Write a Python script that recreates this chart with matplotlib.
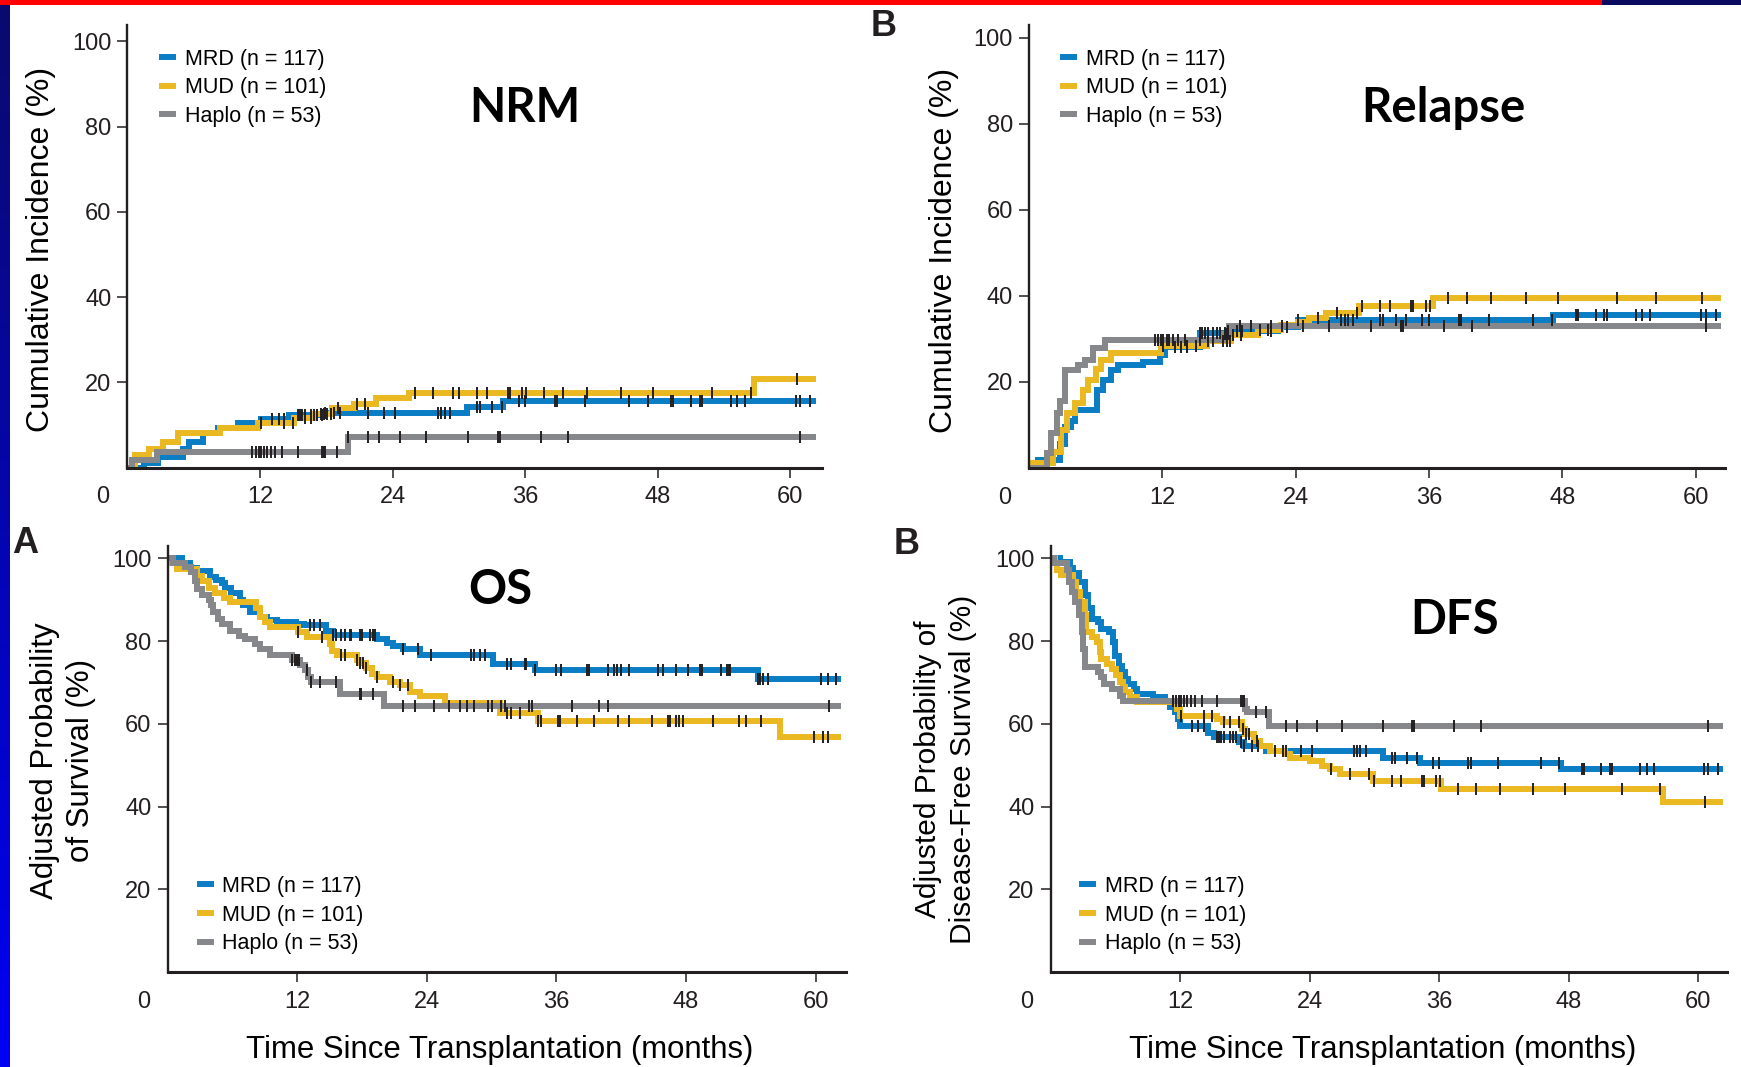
import numpy as np
import matplotlib
matplotlib.use('Agg')
import matplotlib.pyplot as plt
from matplotlib.patches import Rectangle

plt.rcParams['font.family'] = ['Liberation Sans', 'DejaVu Sans']

W, H = 1741, 1067

# groups shared by all four panels
labels = ['MRD (n = 117)', 'MUD (n = 101)', 'Haplo (n = 53)']
colors = ['#0b7dc4', '#eab921', '#86878a']
x_ticks = [12, 24, 36, 48, 60]
y_ticks = [20, 40, 60, 80, 100]

# NRM, cumulative incidence (%) - step times (months) and values
nrm_mrd_t = [0, 1.5, 2.8, 5.0, 5.6, 6.8, 8.2, 10.0, 12.1, 14.6, 17.8, 30.7, 34.0, 62.3]
nrm_mrd_v = [0, 1.2, 2.6, 4.5, 6.1, 8.1, 9.2, 10.4, 11.4, 12.4, 12.9, 14.3, 15.6, 15.6]
nrm_mud_t = [0, 0.7, 2.0, 3.2, 4.6, 8.4, 11.8, 15.1, 17.0, 18.5, 20.5, 22.5, 25.5, 56.7, 62.3]
nrm_mud_v = [0, 3.0, 4.5, 6.1, 8.1, 9.2, 10.4, 11.6, 12.5, 13.9, 15.0, 16.3, 17.6, 20.8, 20.8]
nrm_haplo_t = [0, 0.4, 2.7, 20.0, 62.3]
nrm_haplo_v = [0, 1.8, 3.7, 7.2, 7.2]

# Relapse, cumulative incidence (%)
rel_mrd_t = [0, 0.8, 2.8, 3.2, 3.8, 4.1, 6.1, 6.7, 7.4, 8.0, 10.3, 11.8, 12.2, 15.4, 17.9,
             22.4, 24.2, 47.2, 62.3]
rel_mrd_v = [0, 1.9, 5.6, 9.5, 11.0, 13.6, 18.1, 20.4, 22.8, 24.0, 24.7, 26.3, 28.2, 31.3, 31.8,
             32.7, 34.4, 35.6, 35.6]
rel_mud_t = [0, 0.3, 2.2, 2.9, 3.4, 4.1, 4.9, 5.3, 6.0, 6.5, 7.4, 11.9, 16.0, 18.2, 20.6,
             22.7, 24.2, 25.2, 26.7, 29.7, 36.4, 62.3]
rel_mud_v = [0, 1.2, 3.7, 8.9, 12.7, 15.0, 18.1, 20.4, 23.0, 25.1, 26.7, 28.4, 29.6, 31.0, 32.0,
             33.2, 33.9, 34.8, 36.0, 37.7, 39.6, 39.6]
rel_haplo_t = [0, 1.6, 2.0, 2.5, 2.8, 3.2, 4.4, 5.0, 5.8, 6.8, 17.5, 18.0, 62.3]
rel_haplo_v = [0, 3.4, 8.1, 12.7, 15.5, 22.8, 24.0, 25.1, 27.8, 29.7, 31.2, 33.0, 33.0]

# OS, adjusted probability of survival (%)
os_mrd_t = [0, 1.3, 2.1, 2.7, 3.9, 4.5, 5.0, 5.3, 5.9, 6.7, 7.0, 7.6, 8.6, 9.2, 10.1, 11.9,
            12.6, 14.7, 15.3, 19.4, 20.3, 20.9, 21.8, 23.4, 30.1, 34.0, 54.7, 62.3]
os_mrd_v = [100, 99.0, 97.8, 97.0, 95.5, 94.9, 94.1, 92.8, 91.6, 90.0, 88.7, 87.1, 85.8, 85.0,
            84.6, 84.2, 83.8, 82.5, 81.5, 80.4, 79.6, 78.8, 78.0, 76.7, 74.4, 73.0, 70.9, 70.9]
os_mud_t = [0, 0.3, 0.9, 2.7, 3.2, 3.8, 4.4, 5.2, 5.8, 8.2, 8.6, 9.0, 9.5, 12.1, 12.9, 15.0,
            15.2, 15.7, 17.5, 17.8, 18.4, 18.9, 19.4, 20.6, 21.5, 22.4, 23.4, 25.7, 30.8, 34.3,
            56.7, 62.3]
os_mud_v = [100, 98.9, 97.4, 95.8, 94.6, 92.8, 91.6, 90.4, 89.5, 88.0, 85.8, 84.6, 83.3, 82.1,
            80.9, 79.2, 77.5, 76.7, 75.4, 74.6, 73.4, 72.1, 71.3, 70.1, 69.3, 67.6, 66.8, 65.1,
            62.7, 60.8, 56.9, 56.9]
os_haplo_t = [0, 0.5, 1.6, 2.2, 2.5, 2.7, 3.2, 3.8, 4.0, 4.2, 4.7, 5.0, 5.8, 6.6, 7.2, 8.1,
              8.6, 9.5, 11.5, 12.3, 12.7, 13.0, 13.3, 16.0, 20.0, 62.3]
os_haplo_v = [100, 99.0, 98.0, 96.7, 94.6, 92.5, 91.2, 90.0, 88.7, 87.1, 85.4, 84.2, 82.5,
              81.3, 80.4, 79.2, 78.0, 76.7, 75.4, 74.2, 72.9, 71.3, 70.1, 67.2, 64.2, 64.2]

# DFS, adjusted probability of disease-free survival (%)
dfs_mrd_t = [0, 0.9, 1.8, 2.1, 2.6, 3.2, 3.5, 3.8, 4.4, 4.7, 5.4, 5.8, 6.0, 6.3, 6.6, 6.9,
             7.2, 7.7, 8.0, 9.5, 10.6, 11.1, 11.5, 11.8, 12.0, 14.6, 15.1, 17.5, 17.9, 20.0,
             30.8, 34.2, 47.3, 62.3]
dfs_mrd_v = [100, 99.2, 97.8, 96.4, 94.3, 91.1, 88.0, 85.4, 84.6, 83.0, 82.2, 79.8, 76.5,
             74.1, 72.5, 70.9, 69.7, 68.4, 67.2, 66.4, 65.2, 64.0, 62.8, 61.1, 59.5, 57.9,
             56.7, 55.5, 54.7, 53.5, 51.8, 50.6, 49.0, 49.0]
dfs_mud_t = [0, 0.4, 0.6, 1.0, 2.1, 2.4, 2.7, 3.2, 3.3, 3.8, 4.3, 4.6, 4.7, 5.2, 5.7, 6.1,
             6.4, 6.7, 6.9, 7.4, 8.0, 11.7, 12.0, 15.4, 16.0, 17.7, 18.0, 18.8, 19.4, 20.3,
             21.7, 22.2, 24.0, 25.1, 25.9, 26.8, 29.9, 36.2, 56.7, 62.3]
dfs_mud_v = [100, 98.9, 97.2, 96.0, 94.3, 91.9, 89.5, 86.2, 82.2, 81.0, 79.8, 77.3, 75.7,
             74.5, 73.3, 71.7, 70.1, 68.8, 67.6, 66.4, 65.2, 63.6, 62.0, 61.2, 60.4, 58.7,
             57.5, 55.9, 54.7, 53.5, 52.6, 51.8, 51.0, 49.8, 49.0, 47.8, 46.2, 44.2, 41.2, 41.2]
dfs_haplo_t = [0, 0.3, 1.5, 1.7, 2.0, 2.3, 2.6, 2.9, 3.0, 3.2, 4.4, 4.7, 5.0, 5.7, 6.4, 6.7,
               18.0, 18.2, 20.2, 62.3]
dfs_haplo_v = [100, 98.8, 97.2, 94.3, 91.9, 89.5, 86.2, 82.2, 78.2, 73.7, 72.5, 71.3, 69.7,
               68.4, 66.8, 65.6, 63.6, 62.8, 59.5, 59.5]

# censoring times (months), NRM / relapse / DFS
cens_mrd = [13.1, 13.7, 14.2, 15.4, 15.6, 15.8, 16.1, 16.6, 16.9, 17.2, 17.6, 17.9, 18.7,
            19.2, 21.8, 23.2, 24.2, 28.1, 28.4, 28.7, 29.2, 31.6, 31.9, 33.0, 33.9, 35.4,
            36.0, 38.7, 38.9, 41.4, 45.4, 47.1, 49.2, 49.4, 51.0, 51.8, 52.0, 54.6, 55.2,
            55.9, 60.5, 60.9, 61.8]
cens_mud = [12.1, 14.2, 15.0, 16.1, 16.6, 17.5, 17.8, 18.1, 18.4, 19.1, 20.8, 21.5, 26.0,
            27.7, 29.5, 30.0, 31.6, 32.5, 34.4, 34.6, 35.7, 36.1, 37.7, 39.4, 41.6, 44.7,
            47.6, 52.9, 56.4, 60.6]
cens_haplo = [11.3, 11.6, 11.9, 12.1, 12.4, 12.6, 13.0, 13.4, 14.0, 15.4, 17.6, 17.8, 17.9,
              19.0, 20.0, 21.8, 22.8, 24.7, 27.0, 30.8, 33.5, 33.7, 37.4, 39.9, 60.9]
# censoring times (months), OS
cens_mrd_os = [13.2, 13.6, 14.1, 15.3, 15.6, 16.1, 16.4, 16.9, 17.0, 17.8, 18.0, 18.7, 19.0,
               19.2, 21.8, 23.2, 24.4, 28.1, 28.4, 28.9, 29.4, 31.4, 31.8, 33.1, 33.2, 34.0,
               36.0, 36.4, 38.8, 39.0, 40.8, 41.3, 41.6, 42.0, 42.7, 45.4, 45.9, 47.1, 48.2,
               49.3, 49.5, 51.2, 51.8, 52.0, 52.1, 54.7, 54.8, 55.1, 55.6, 60.5, 61.1, 61.9]
cens_mud_os = [12.1, 14.3, 16.1, 16.4, 17.5, 17.8, 18.1, 18.4, 19.4, 20.9, 21.5, 22.3, 31.4,
               31.8, 32.6, 34.3, 34.6, 36.1, 36.3, 37.9, 39.5, 41.7, 42.7, 44.8, 46.3, 46.5,
               47.1, 47.3, 47.7, 50.5, 52.9, 53.5, 54.9, 59.8, 60.7, 61.1]
cens_haplo_os = [11.5, 11.8, 12.0, 12.2, 12.9, 13.3, 14.1, 15.6, 17.8, 17.9, 19.0, 21.8, 22.9,
                 24.7, 26.1, 27.1, 27.7, 28.4, 29.7, 30.0, 30.9, 31.2, 33.5, 33.7, 37.4, 39.9,
                 40.8, 61.2]


def px_axes(fig, x0, top, x1, bottom):
    # axes box given in pixel coordinates of the 1741x1067 picture
    return fig.add_axes([x0 / W, 1 - bottom / H, (x1 - x0) / W, (bottom - top) / H])


def km_panel(ax, curves, xmax, ymax):
    handles = []
    for (t, v, cens), color, lab in zip(curves, colors, labels):
        t = np.asarray(t)
        v = np.asarray(v)
        ln, = ax.step(t, v, where='post', color=color, lw=4.3, label=lab,
                      solid_joinstyle='miter', solid_capstyle='butt')
        handles.append(ln)
        idx = np.searchsorted(t, cens, side='right') - 1
        ax.plot(cens, v[idx], ls='none', marker='|', ms=8.5, mew=1.4,
                color='#231f20', zorder=5)
    ax.set_xlim(0, xmax)
    ax.set_ylim(0, ymax)
    ax.set_xticks(x_ticks)
    ax.set_yticks(y_ticks)
    for side in ['top', 'right']:
        ax.spines[side].set_visible(False)
    ax.spines['left'].set_linewidth(1.7)
    ax.spines['bottom'].set_linewidth(2.2)
    for side in ['left', 'bottom']:
        ax.spines[side].set_color('#231f20')
    ax.tick_params(direction='out', length=7, width=1.1, color='#231f20',
                   labelcolor='#231f20', labelsize=17)
    ax.tick_params(axis='x', pad=6.5)
    ax.tick_params(axis='y', pad=4.5)
    ax.annotate('0', xy=(0, 0), xycoords='data', xytext=(-17.5, -13.5),
                textcoords='offset points', ha='center', va='top',
                fontsize=17, color='#231f20')
    return handles


def add_legend(ax, handles, x_px, y_px):
    ax.legend(handles=handles, loc='upper left', bbox_to_anchor=(x_px / W, 1 - y_px / H),
              bbox_transform=ax.figure.transFigure, frameon=False, fontsize=15.5,
              handlelength=0.8, handletextpad=0.4, labelspacing=0.36,
              borderpad=0, borderaxespad=0)


fig = plt.figure(figsize=(W / 100, H / 100), dpi=100)

# slide decoration: red/navy strip at the top, blue gradient at the left
fig.add_artist(Rectangle((0, 1 - 5 / H), 1602 / W, 5 / H, transform=fig.transFigure,
                         color='#ff0000', lw=0))
fig.add_artist(Rectangle((1602 / W, 1 - 5 / H), 1 - 1602 / W, 5 / H,
                         transform=fig.transFigure, color='#0a0a5e', lw=0))
gax = fig.add_axes([0, 0, 10 / W, 1 - 5 / H])
grad = np.linspace(0, 1, 256).reshape(-1, 1)
gax.imshow(grad, aspect='auto', cmap=matplotlib.colors.LinearSegmentedColormap.from_list(
    'bar', ['#0a0a6e', '#0000f5']), origin='upper')
gax.axis('off')

# NRM
ax1 = px_axes(fig, 127.4, 25, 822, 467.7)
h = km_panel(ax1, [(nrm_mrd_t, nrm_mrd_v, cens_mrd), (nrm_mud_t, nrm_mud_v, cens_mud),
                   (nrm_haplo_t, nrm_haplo_v, cens_haplo)], 62.86, 103.8)
add_legend(ax1, h, 159, 48.5)
ax1.set_ylabel('Cumulative Incidence (%)', fontsize=23, ha='center', va='center')
ax1.yaxis.set_label_coords(-0.1244, 0.492)

# Relapse
ax2 = px_axes(fig, 1029, 25, 1725, 468)
h = km_panel(ax2, [(rel_mrd_t, rel_mrd_v, cens_mrd), (rel_mud_t, rel_mud_v, cens_mud),
                   (rel_haplo_t, rel_haplo_v, cens_haplo)], 62.65, 103.0)
add_legend(ax2, h, 1060, 48.5)
ax2.set_ylabel('Cumulative Incidence (%)', fontsize=23, ha='center', va='center')
ax2.yaxis.set_label_coords(-0.1224, 0.492)

# OS
ax3 = px_axes(fig, 167.5, 546, 846, 972)
h = km_panel(ax3, [(os_mrd_t, os_mrd_v, cens_mrd_os), (os_mud_t, os_mud_v, cens_mud_os),
                   (os_haplo_t, os_haplo_v, cens_haplo_os)], 62.8, 103.0)
add_legend(ax3, h, 196.5, 876)
ax3.set_ylabel('Adjusted Probability\nof Survival (%)', fontsize=22.5, ha='center',
               va='center', linespacing=1.25)
ax3.yaxis.set_label_coords(-0.1545, 0.4965)
ax3.set_xlabel('Time Since Transplantation (months)', fontsize=22.4, ha='center', va='center')
ax3.xaxis.set_label_coords(0.4895, -0.183)

# DFS
ax4 = px_axes(fig, 1050.5, 546, 1726.5, 972)
h = km_panel(ax4, [(dfs_mrd_t, dfs_mrd_v, cens_mrd), (dfs_mud_t, dfs_mud_v, cens_mud),
                   (dfs_haplo_t, dfs_haplo_v, cens_haplo)], 62.6, 103.0)
add_legend(ax4, h, 1079, 876)
ax4.set_ylabel('Adjusted Probability of\nDisease-Free Survival (%)', fontsize=21.5,
               ha='center', va='center', linespacing=1.3)
ax4.yaxis.set_label_coords(-0.1555, 0.4765)
ax4.set_xlabel('Time Since Transplantation (months)', fontsize=22.4, ha='center', va='center')
ax4.xaxis.set_label_coords(0.491, -0.183)

# panel titles and letters
title_font = dict(family=['Lato', 'DejaVu Sans'], weight='bold', fontsize=34,
                  ha='center', va='center')
fig.text(525 / W, 1 - 108.5 / H, 'NRM', **title_font)
fig.text(1443 / W, 1 - 108.5 / H, 'Relapse', **title_font)
fig.text(500 / W, 1 - 589.5 / H, 'OS', **title_font)
fig.text(1455 / W, 1 - 619.5 / H, 'DFS', **title_font)
letter_font = dict(weight='bold', fontsize=26, ha='center', va='center', color='#231f20')
fig.text(884 / W, 1 - 26.5 / H, 'B', **letter_font)
fig.text(25 / W, 1 - 543.5 / H, 'A', **letter_font)
fig.text(907 / W, 1 - 544 / H, 'B', **letter_font)

fig.savefig('out.png', dpi=100)
